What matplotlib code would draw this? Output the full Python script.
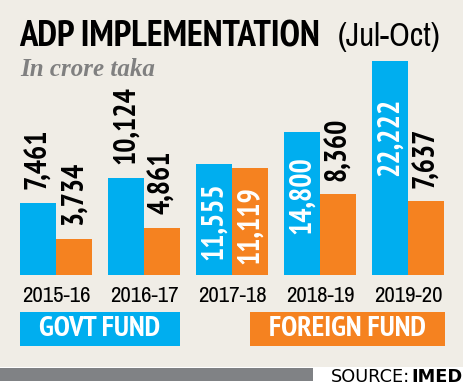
import os
import matplotlib
matplotlib.use("Agg")
import matplotlib.pyplot as plt
from matplotlib import font_manager as fm
from matplotlib.patches import Rectangle

# data
years = ["2015-16", "2016-17", "2017-18", "2018-19", "2019-20"]
govt_fund = [7461, 10124, 11555, 14800, 22222]
foreign_fund = [3734, 4861, 11119, 8360, 7637]

BLUE = "#00aeef"
ORANGE = "#f58220"
BG = "#f0ede6"


def cond_font(bold):
    # look for a narrow / condensed face, narrowest first
    prefs = ["narrow", "extracondensed", "extra condensed", "condensed"]
    best = None
    for f in fm.fontManager.ttflist:
        tag = (f.name + " " + os.path.basename(f.fname)).lower()
        if "italic" in tag or "oblique" in tag or "semicondensed" in tag or "semi condensed" in tag:
            continue
        w = f.weight if isinstance(f.weight, int) else fm.weight_dict.get(f.weight, 400)
        if bold and w < 600 or not bold and w >= 600:
            continue
        for rank, k in enumerate(prefs):
            if k in tag:
                if best is None or rank < best[0]:
                    best = (rank, f.fname)
                break
    if best:
        return best[1]
    return None


bold_file = cond_font(True)
reg_file = cond_font(False)


def fp(bold, size):
    fname = bold_file if bold else reg_file
    if fname:
        return fm.FontProperties(fname=fname, size=size)
    return fm.FontProperties(family="DejaVu Sans", weight="bold" if bold else "normal", size=size)


W, H = 464, 389
fig = plt.figure(figsize=(W / 100, H / 100), dpi=100, facecolor=BG)

# overlay in pixel coords
bg = fig.add_axes([0, 0, 1, 1])
bg.set_xlim(0, W)
bg.set_ylim(H, 0)
bg.axis("off")
bg.add_patch(Rectangle((0, 367), W, H - 367, color="white", lw=0))
bg.add_patch(Rectangle((0, 368), 313, 13, color="#808285", lw=0))

bg.text(19, 46, "ADP IMPLEMENTATION", fontproperties=fp(True, 26.5), color="black", va="baseline")
bg.text(338, 46, "(Jul-Oct)", fontproperties=fp(False, 23.5), color="black", va="baseline")
bg.text(20, 76, "In crore taka", family="Liberation Serif", style="italic", weight="bold",
        size=18, color="#808080", va="baseline")

# legend boxes
bg.add_patch(Rectangle((20, 312), 160, 34, color=BLUE, lw=0))
bg.text(100, 329.5, "GOVT FUND", fontproperties=fp(True, 21), color="white", ha="center", va="center")
bg.add_patch(Rectangle((250, 312), 195, 34, color=ORANGE, lw=0))
bg.text(347, 329.5, "FOREIGN FUND", fontproperties=fp(True, 21), color="white", ha="center", va="center")

bg.text(410, 381.5, "SOURCE:", family="DejaVu Sans", size=12.8, color="black", ha="right", va="baseline")
bg.text(463, 381.5, "IMED", family="DejaVu Sans", weight="bold", size=12.8, color="black", ha="right", va="baseline")

# bar chart
base_px, top_px = 275, 40
px_per_unit = 214 / 22222
ax = fig.add_axes([0, (H - base_px) / H, 1, (base_px - top_px) / H])
ax.patch.set_alpha(0)
ax.set_xlim(-56 / 88, (W - 56) / 88)
ax.set_ylim(0, (base_px - top_px) / px_per_unit)
for s in ax.spines.values():
    s.set_visible(False)
ax.set_yticks([])

x = list(range(len(years)))
bw = 0.409
ax.bar([i - bw / 2 for i in x], govt_fund, bw, color=BLUE)
ax.bar([i + bw / 2 for i in x], foreign_fund, bw, color=ORANGE)
ax.set_xticks(x)
ax.set_xticklabels(years)
for lab in ax.get_xticklabels():
    lab.set_fontproperties(fp(False, 16.5))
ax.tick_params(axis="x", length=0, pad=8)

for series, off in ((govt_fund, -bw / 2), (foreign_fund, bw / 2)):
    for i, v in enumerate(series):
        txt = f"{v:,}"
        if v > 11000:
            ax.text(i + off, v * 0.83, txt, rotation=90, ha="center", va="top",
                    color="white", fontproperties=fp(True, 21.5))
        else:
            ax.annotate(txt, (i + off, v), xytext=(0, 10), textcoords="offset points",
                        rotation=90, ha="center", va="bottom", color="black",
                        fontproperties=fp(True, 21.5))

fig.savefig("out.png", dpi=100, facecolor=BG)
